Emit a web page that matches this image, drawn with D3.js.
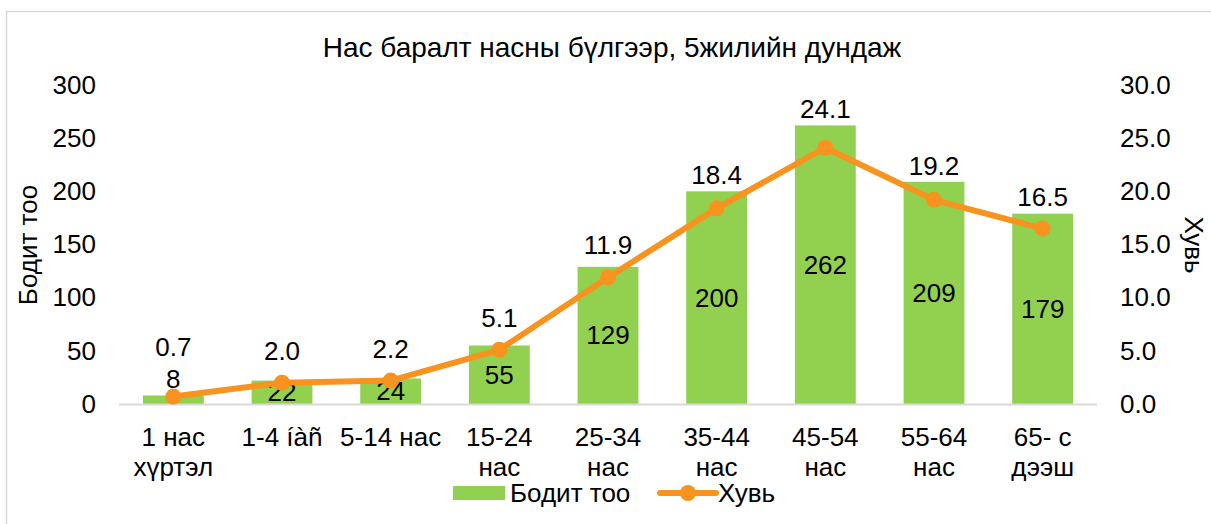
<!DOCTYPE html>
<html>
<head>
<meta charset="utf-8">
<script src="https://cdn.jsdelivr.net/npm/d3@7/dist/d3.min.js"></script>
<style>
  body { margin: 0; background: #fff; }
  text { font-family: "Liberation Sans", Arial, sans-serif; fill: #000; }
</style>
</head>
<body>
<svg id="chart" width="1211" height="524"></svg>
<script>
// age groups, death counts and percent share
var categories = [
  ['1 нас', 'хүртэл'], ['1-4 íàñ'], ['5-14 нас'], ['15-24', 'нас'], ['25-34', 'нас'],
  ['35-44', 'нас'], ['45-54', 'нас'], ['55-64', 'нас'], ['65- с', 'дээш']
];
var counts = [8, 22, 24, 55, 129, 200, 262, 209, 179];
var percents = [0.7, 2.0, 2.2, 5.1, 11.9, 18.4, 24.1, 19.2, 16.5];
var leftTicks = [0, 50, 100, 150, 200, 250, 300];
var rightTicks = [0, 5, 10, 15, 20, 25, 30];

var green = '#92d050';
var orange = '#f7931e';

var svg = d3.select('#chart');
var plotLeft = 119, plotRight = 1097, plotTop = 85, plotBottom = 404;

// frame
svg.append('rect')
  .attr('x', 6.5).attr('y', 11.5)
  .attr('width', 1230).attr('height', 540)
  .attr('fill', 'none').attr('stroke', '#d9d9d9').attr('stroke-width', 1.5);

var xScale = d3.scaleBand()
  .domain(d3.range(categories.length))
  .range([plotLeft, plotRight])
  .paddingInner(0.44).paddingOuter(0.22);
var yScale = d3.scaleLinear().domain([0, 300]).range([plotBottom, plotTop]);
var y2Scale = d3.scaleLinear().domain([0, 30]).range([plotBottom, plotTop]);

svg.append('text')
  .attr('x', 612).attr('y', 57)
  .attr('text-anchor', 'middle')
  .style('font-size', '28px')
  .text('Нас баралт насны бүлгээр, 5жилийн дундаж');

// left axis
var yAxis = d3.axisLeft(yScale).tickValues(leftTicks).tickSize(0).tickPadding(0);
var gl = svg.append('g').attr('transform', 'translate(96,0)').call(yAxis);
gl.select('.domain').remove();
gl.selectAll('text').style('font-size', '26px').style('font-family', '"Liberation Sans", Arial, sans-serif');

// right axis
var y2Axis = d3.axisRight(y2Scale).tickValues(rightTicks).tickFormat(d3.format('.1f')).tickSize(0).tickPadding(0);
var gr = svg.append('g').attr('transform', 'translate(1120,0)').call(y2Axis);
gr.select('.domain').remove();
gr.selectAll('text').style('font-size', '26px').style('font-family', '"Liberation Sans", Arial, sans-serif');

svg.append('text')
  .attr('transform', 'translate(37,245) rotate(-90)')
  .attr('text-anchor', 'middle')
  .style('font-size', '26px')
  .text('Бодит тоо');
svg.append('text')
  .attr('transform', 'translate(1185,245) rotate(90)')
  .attr('text-anchor', 'middle')
  .style('font-size', '26px')
  .text('Хувь');

// bars
svg.selectAll('rect.bar')
  .data(counts)
  .enter()
  .append('rect')
  .attr('class', 'bar')
  .attr('x', function(d, i){ return xScale(i); })
  .attr('y', function(d){ return yScale(d); })
  .attr('width', xScale.bandwidth())
  .attr('height', function(d){ return plotBottom - yScale(d); })
  .attr('fill', green);

// x axis line
svg.append('line')
  .attr('x1', plotLeft).attr('x2', plotRight)
  .attr('y1', plotBottom + 0.5).attr('y2', plotBottom + 0.5)
  .attr('stroke', '#d9d9d9').attr('stroke-width', 2);

// category labels
var cx = function(i){ return xScale(i) + xScale.bandwidth() / 2; };
categories.forEach(function(lines, i){
  var t = svg.append('text')
    .attr('x', cx(i)).attr('y', 446)
    .attr('text-anchor', 'middle')
    .style('font-size', '26px');
  lines.forEach(function(s, k){
    t.append('tspan').attr('x', cx(i)).attr('dy', k === 0 ? 0 : 30).text(s);
  });
});

// bar label centre: inside the bar, or above it if the bar is too short
var barLabelY = function(d){
  var h = plotBottom - yScale(d);
  return h < 20 ? yScale(d) - 16 : yScale(d) + h / 2;
};
svg.selectAll('text.blab')
  .data(counts)
  .enter()
  .append('text')
  .attr('class', 'blab')
  .attr('x', function(d, i){ return cx(i); })
  .attr('y', function(d){ return barLabelY(d) + 9; })
  .attr('text-anchor', 'middle')
  .style('font-size', '26px')
  .text(function(d){ return d; });

// line
var line = d3.line()
  .x(function(d, i){ return cx(i); })
  .y(function(d){ return y2Scale(d); });
svg.append('path')
  .datum(percents)
  .attr('d', line)
  .attr('fill', 'none')
  .attr('stroke', orange)
  .attr('stroke-width', 6)
  .attr('stroke-linejoin', 'round');
svg.selectAll('circle.pt')
  .data(percents)
  .enter()
  .append('circle')
  .attr('class', 'pt')
  .attr('cx', function(d, i){ return cx(i); })
  .attr('cy', function(d){ return y2Scale(d); })
  .attr('r', 8)
  .attr('fill', orange);

// percent labels, kept above the line point, the bar top and the bar label
svg.selectAll('text.plab')
  .data(percents)
  .enter()
  .append('text')
  .attr('class', 'plab')
  .attr('x', function(d, i){ return cx(i); })
  .attr('y', function(d, i){
    return Math.min(y2Scale(d) - 32, yScale(counts[i]) - 16, barLabelY(counts[i]) - 32) + 9;
  })
  .attr('text-anchor', 'middle')
  .style('font-size', '26px')
  .text(function(d){ return d3.format('.1f')(d); });

// legend
var lg = svg.append('g');
lg.append('rect')
  .attr('x', 453).attr('y', 486).attr('width', 52).attr('height', 14)
  .attr('fill', green);
lg.append('text').attr('x', 510).attr('y', 502).style('font-size', '26px').text('Бодит тоо');
lg.append('line')
  .attr('x1', 660).attr('x2', 716).attr('y1', 493).attr('y2', 493)
  .attr('stroke', orange).attr('stroke-width', 6).attr('stroke-linecap', 'round');
lg.append('circle').attr('cx', 688).attr('cy', 493).attr('r', 8).attr('fill', orange);
lg.append('text').attr('x', 718).attr('y', 502).style('font-size', '26px').text('Хувь');
</script>
</body>
</html>
